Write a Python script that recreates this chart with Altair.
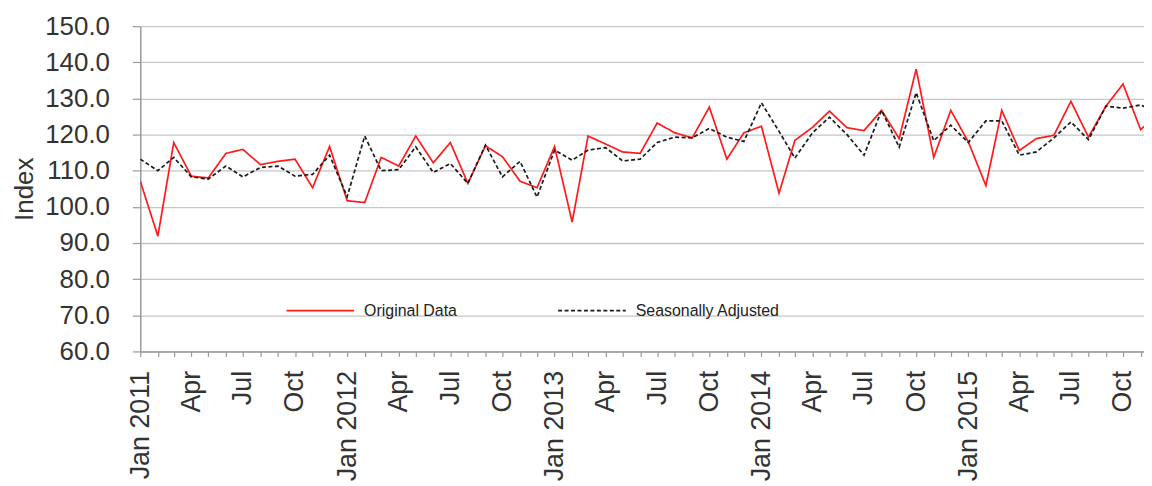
import altair as alt
import pandas as pd

# Monthly index, Jan 2011 .. Dec 2015
months = pd.date_range("2011-01-01", periods=60, freq="MS")

original = [
    107.1, 91.9, 117.8, 108.5, 108.0, 114.8, 115.9, 111.7, 112.6, 113.2, 105.3, 116.7,
    101.7, 101.2, 113.7, 111.3, 119.6, 112.2, 117.8, 106.5, 116.9, 113.9, 107.1, 105.3,
    116.7, 95.8, 119.6, 117.4, 115.2, 114.8, 123.2, 120.5, 119.1, 127.6, 113.2, 120.5,
    122.3, 103.8, 118.4, 122.0, 126.5, 121.9, 121.1, 126.7, 118.9, 138.1, 113.7, 126.7,
    118.0, 105.9, 126.7, 115.6, 118.9, 119.8, 129.2, 119.3, 127.9, 134.0, 121.4, 125.4,
]

seasonal = [
    113.2, 110.0, 113.7, 108.3, 107.7, 111.3, 108.3, 110.9, 111.3, 108.5, 109.0, 114.3,
    102.8, 119.6, 110.0, 110.3, 116.6, 109.5, 112.0, 106.5, 117.1, 108.3, 112.6, 102.7,
    115.7, 112.9, 115.7, 116.4, 112.7, 113.2, 117.8, 119.3, 119.1, 121.7, 119.3, 118.1,
    128.8, 120.9, 113.5, 120.5, 124.8, 120.0, 114.3, 126.7, 116.5, 131.6, 118.3, 122.6,
    117.8, 123.8, 123.8, 114.3, 115.2, 119.1, 123.5, 118.6, 127.9, 127.3, 128.2, 126.0,
]

series_names = ["Original Data", "Seasonally Adjusted"]
series_colors = ["#ff1a1a", "#1a1a1a"]
series_dash = [[1, 0], [4, 2.5]]
y_ticks = [60, 70, 80, 90, 100, 110, 120, 130, 140, 150]

df = pd.DataFrame({
    "date": list(months) * 2,
    "value": original + seasonal,
    "series": [series_names[0]] * len(original) + [series_names[1]] * len(seasonal),
})

FONT = "Liberation Sans"
TEXT = "#333333"
AXIS_GRAY = "#9a9a9a"

legend = alt.Legend(
    title=None,
    orient="none",
    legendX=146,
    legendY=251,
    direction="horizontal",
    symbolType="stroke",
    symbolSize=4624,
    symbolStrokeWidth=1.6,
    labelFont=FONT,
    labelFontSize=16,
    labelColor="#222222",
    labelOffset=9,
    columnPadding=97,
    padding=0,
)

x_label_expr = (
    "month(datum.value) == 0 ? 'Jan ' + year(datum.value) : "
    "(month(datum.value) % 3 == 0 ? timeFormat(datum.value, '%b') : '')"
)

chart = (
    alt.Chart(df)
    .mark_line(clip=True, strokeWidth=1.7)
    .encode(
        x=alt.X(
            "date:T",
            title=None,
            scale=alt.Scale(
                domain=[
                    alt.DateTime(year=2011, month=1, date=1),
                    alt.DateTime(year=2015, month=11, date=7),
                ],
                nice=False,
            ),
            axis=alt.Axis(
                tickCount={"interval": "month", "step": 1},
                labelExpr=x_label_expr,
                labelAngle=270,
                labelAlign="right",
                labelBaseline="middle",
                labelPadding=14,
                labelFont=FONT,
                labelFontSize=27,
                labelColor=TEXT,
                labelFlush=False,
                labelOverlap=False,
                grid=False,
                domainColor=AXIS_GRAY,
                domainWidth=1.5,
                tickColor=AXIS_GRAY,
                tickWidth=1.2,
                tickSize=5,
            ),
        ),
        y=alt.Y(
            "value:Q",
            scale=alt.Scale(domain=[60, 150], zero=False, nice=False),
            axis=alt.Axis(
                title="Index",
                values=y_ticks,
                format=".1f",
                labelFont=FONT,
                labelFontSize=26,
                labelColor=TEXT,
                labelPadding=23,
                titleFont=FONT,
                titleFontSize=26,
                titleFontWeight="normal",
                titleColor=TEXT,
                titlePadding=7,
                grid=True,
                gridColor="#c6c6c6",
                gridWidth=1.3,
                domainColor=AXIS_GRAY,
                domainWidth=1.5,
                tickColor=AXIS_GRAY,
                tickWidth=1.2,
                tickSize=8,
            ),
        ),
        color=alt.Color(
            "series:N",
            scale=alt.Scale(domain=series_names, range=series_colors),
            legend=legend,
        ),
        strokeDash=alt.StrokeDash(
            "series:N",
            scale=alt.Scale(domain=series_names, range=series_dash),
            legend=legend,
        ),
    )
    .properties(
        width=1009,
        height=327,
        autosize=alt.AutoSizeParams(type="none"),
        padding={"left": 133, "top": 17, "right": 0, "bottom": 132},
        background="white",
    )
    .configure_view(stroke=None)
)

chart.save("out.html", embed_options={"renderer": "svg", "actions": False})
